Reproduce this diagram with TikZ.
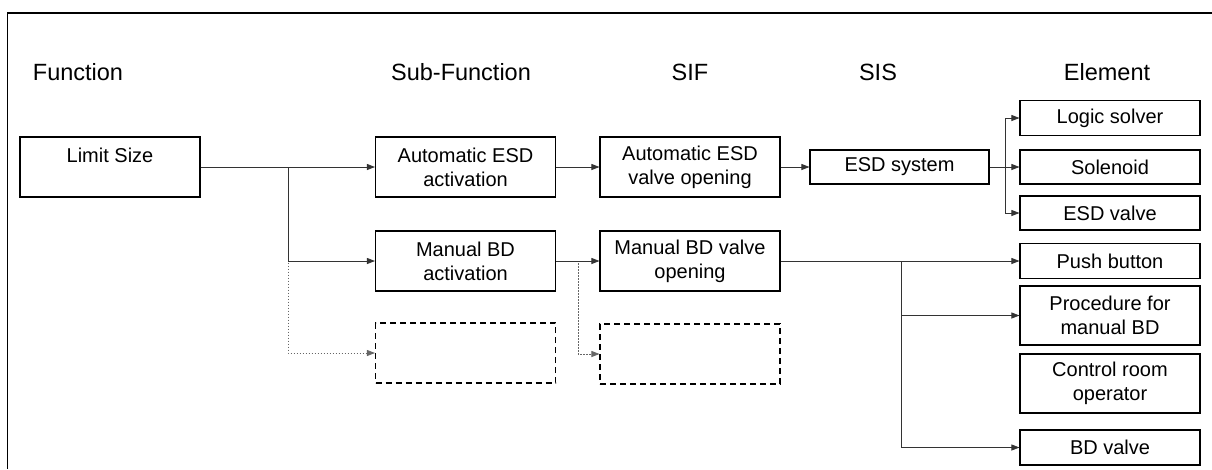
\documentclass[tikz,border=0pt]{standalone}
\usepackage{fontspec}
\setmainfont{Liberation Sans}
\usetikzlibrary{arrows.meta}
\tikzset{
  box/.style={draw=black, line width=1.1pt, minimum width=180pt, minimum height=60pt,
    inner sep=0pt, align=center, font=\fontsize{20}{24}\selectfont},
  slim/.style={box, minimum height=35pt},
  ghost/.style={box, dashed, dash pattern=on 6pt off 4pt},
  header/.style={font=\fontsize{23.5}{28}\selectfont, inner sep=0pt},
  conn/.style={draw=black!80, line width=0.8pt, -{Triangle[length=8pt,width=6pt]}},
  dotconn/.style={conn, draw=black!60, dash pattern=on 1.5pt off 1.5pt},
  link/.style={draw=black!80, line width=0.8pt}
}
\begin{document}
\begin{tikzpicture}[x=1pt, y=-1pt]
\useasboundingbox (0,0) rectangle (1212,469);
% outer frame, open to the right and bottom
\draw[line width=1.5pt] (1212,13) -- (7.5,13) -- (7.5,469);

% column headers
\node[header] (hfun) at (78,72) {Function};
\node[header] (hsub) at (461,72) {Sub-Function};
\node[header] (hsif) at (690,72) {SIF};
\node[header] (hsis) at (878,72) {SIS};
\node[header] (hele) at (1107,72) {Element};

% function
\node[box] (limit) at (110,167) {Limit Size\\\mbox{}};

% sub-functions
\node[box] (subA) at (465.5,167) {Automatic ESD\\activation};
\node[box] (subB) at (465.5,261) {Manual BD\\activation};
\node[ghost] (subC) at (465.5,353) {};

% safety instrumented functions
\node[box] (sifA) at (690,167) {Automatic ESD\\valve opening};
\node[box] (sifB) at (690,261) {Manual BD valve\\opening};
\node[ghost] (sifC) at (690,354) {};

% safety instrumented system
\node[slim, minimum width=179pt, minimum height=34pt] (esd) at (899.5,167) {ESD system};

% elements
\node[slim] (logic) at (1110,118) {Logic solver};
\node[slim, minimum height=34pt] (sol) at (1110,167) {Solenoid};
\node[slim, minimum height=34pt] (esdv) at (1110,213) {ESD valve};
\node[slim] (push) at (1110,261) {Push button};
\node[box, minimum height=59pt] (proc) at (1110,315.5) {Procedure for\\manual BD};
\node[box, minimum height=59pt] (ctrl) at (1110,383.5) {Control room\\operator};
\node[slim] (bdv) at (1110,447.5) {BD valve};

% junction points
\coordinate (j1) at (288,167);
\coordinate (j2) at (578,261);
\coordinate (j3) at (1005.5,167);
\coordinate (j4) at (901,261);

% connectors
\draw[dotconn] (limit.east) -- (j1) |- (subC.west);
\draw[conn] (limit.east) -- (subA.west);
\draw[conn] (j1) |- (subB.west);

\draw[conn] (subA.east) -- (sifA.west);
\draw[dotconn] (subB.east) -- (j2) |- (sifC.west);
\draw[conn] (subB.east) -- (sifB.west);

\draw[conn] (sifA.east) -- (esd.west);

\draw[conn] (esd.east) -- (sol.west);
\draw[conn] (j3) |- (logic.west);
\draw[conn] (j3) |- (esdv.west);

\draw[conn] (sifB.east) -- (push.west);
\draw[conn] (j4) |- (proc.west);
\draw[conn] (j4) |- (bdv.west);
\end{tikzpicture}
\end{document}
